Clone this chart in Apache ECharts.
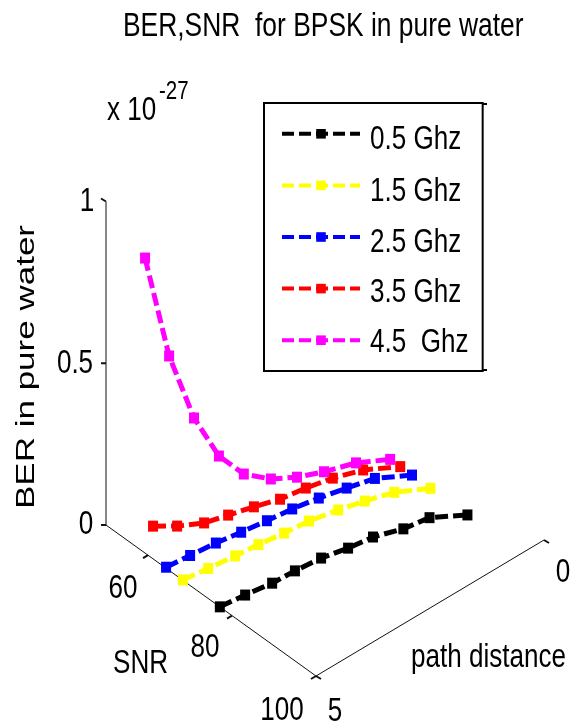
<!DOCTYPE html>
<html>
<head>
<meta charset="utf-8">
<style>html,body{margin:0;padding:0;background:#fff}#c{width:570px;height:724px}</style>
<script src="https://cdn.jsdelivr.net/npm/echarts@6/dist/echarts.min.js"></script>
</head>
<body>
<div id="c"></div>
<script>
// ---- data ----
var distance = [5, 4.5, 4, 3.5, 3, 2.5, 2, 1.5, 1, 0.5];
var names = ['0.5 Ghz', '1.5 Ghz', '2.5 Ghz', '3.5 Ghz', '4.5  Ghz'];
var colors = ['#000000', '#ffff00', '#0000ff', '#ff0000', '#ff00ff'];
var snr05 = [77.1, 77.7, 78.7, 78.7, 79.5, 80.5, 81.0, 82.8, 83.6, 87.2];
var snr15 = [68.3, 68.9, 69.9, 70.0, 70.7, 71.2, 72.7, 73.6, 75.2, 78.4];
var snr25 = [64.3, 64.6, 65.3, 65.9, 66.6, 67.2, 68.1, 69.3, 70.6, 74.0];
var snr35 = [61.2, 61.5, 62.5, 62.8, 63.5, 64.3, 65.0, 66.0, 67.8, 71.2];
var snr45 = [59.3, 59.6, 60.1, 60.6, 61.1, 62.1, 62.9, 63.9, 66.1, 68.8];
var ber05 = [0, 0, 0.004, 0, 0.005, 0.003, 0, 0, 0, 0];
var ber15 = [0.001, 0, 0.006, 0, 0, 0, 0.006, 0, 0, 0];
var ber25 = [0.003, 0, 0.003, 0, 0, 0, 0, 0, 0, 0];
var ber35 = [0.101, 0.062, 0.039, 0.024, 0.014, 0.003, 0.002, 0, 0, 0];
var ber45 = [0.912, 0.570, 0.341, 0.186, 0.093, 0.045, 0.016, 0, 0.006, 0];
var snrSets = [snr05, snr15, snr25, snr35, snr45];
var berSets = [ber05, ber15, ber25, ber35, ber45];
var berTicks = [0, 0.5, 1];
var berTickLabels = ['0', '0.5', '1'];
var snrTicks = [60, 80, 100];
var distTicks = [0, 5];
var snrMin = 50, snrMax = 100, distMax = 5;

// ---- oblique view of the three axes onto a flat plane ----
function project(snr, dist, ber) {
  var u = snr - snrMin, v = distMax - dist;
  return [106 + 4.2 * u + 45.6 * v, 525 + 3.02 * u - 27.2 * v - 323.5 * ber];
}

var FONT = '"Liberation Sans",Arial,sans-serif';
var series = [];
var graphics = [];

// horizontally condensed text
function txt(x, y, text, align, size, sx) {
  graphics.push({ type: 'text', x: x, y: y + 2, scaleX: sx || 0.79, z: 10,
    style: { text: text, font: (size || 33) + 'px ' + FONT, fill: '#000', align: align || 'center', verticalAlign: 'middle' } });
}

// frame
function frame(points) {
  series.push({ type: 'line', silent: true, symbol: 'none', z: 1,
    lineStyle: { color: '#111', width: 1 }, data: points });
}
frame([project(snrMin, 5, 1), project(snrMin, 5, 0), project(snrMax, 5, 0), project(snrMax, 0, 0)]);

function nub(pt, dx, dy) {
  series.push({ type: 'line', silent: true, symbol: 'none', z: 1,
    lineStyle: { color: '#111', width: 2 }, data: [pt, [pt[0] + dx, pt[1] + dy]] });
}
var berOff = [[-20, -2], [-31, -1], [-19, -2]];
berTicks.forEach(function (b, i) {
  var p = project(snrMin, 5, b);
  nub(p, -5, b === 1 ? -3 : 0);
  txt(p[0] + berOff[i][0], p[1] + berOff[i][1], berTickLabels[i]);
});
var snrOff = [[-25, 32], [-27, 30], [-34, 33]];
snrTicks.forEach(function (s, i) {
  var p = project(s, 5, 0);
  nub(p, -5, 3);
  txt(p[0] + snrOff[i][0], p[1] + snrOff[i][1], String(s));
});
var distOff = { 0: [19, 31], 5: [19, 34] };
distTicks.forEach(function (d) {
  var p = project(snrMax, d, 0);
  nub(p, 5, 3);
  txt(p[0] + distOff[d][0], p[1] + distOff[d][1], String(d));
});

// curves
names.forEach(function (n, i) {
  series.push({
    name: n, type: 'line', z: 5, clip: false,
    symbol: 'rect', symbolSize: [10, 11], showSymbol: true,
    itemStyle: { color: colors[i] },
    lineStyle: { color: colors[i], width: 5, type: [13, 5], cap: 'butt' },
    data: distance.map(function (d, k) { return project(snrSets[i][k], d, berSets[i][k]); })
  });
});

// text
txt(123, 25, 'BER,SNR  for BPSK in pure water', 'left', 33, 0.8);
txt(107, 109, 'x 10', 'left');
txt(159, 90, '-27', 'left', 26);
txt(411, 656, 'path distance', 'left');
txt(113, 662, 'SNR', 'left');
var legendY = [138, 190, 241, 291, 341];
names.forEach(function (n, i) { txt(370, legendY[i], n, 'left'); });
graphics.push({ type: 'text', x: 27, y: 367, rotation: Math.PI / 2, scaleY: 0.76,
  style: { text: 'BER in pure water', font: '35px ' + FONT, fill: '#000', align: 'center', verticalAlign: 'middle' } });
graphics.push({ type: 'rect', shape: { x: 483, y: 103, width: 4, height: 2 }, style: { fill: '#000' } });
graphics.push({ type: 'rect', shape: { x: 483, y: 369, width: 4, height: 2 }, style: { fill: '#000' } });

var chart = echarts.init(document.getElementById('c'), null, { renderer: 'canvas' });
chart.setOption({
  animation: false,
  backgroundColor: '#fff',
  grid: { left: 0, right: 0, top: 0, bottom: 0 },
  xAxis: { type: 'value', min: 0, max: 570, show: false },
  yAxis: { type: 'value', min: 0, max: 724, inverse: true, show: false },
  legend: {
    data: names, orient: 'vertical', left: 264, top: 103,
    padding: [26, 116, 26, 16], itemWidth: 78, itemHeight: 12, itemGap: 42,
    lineStyle: { width: 4, type: [12, 5] },
    borderColor: '#000', borderWidth: 2, backgroundColor: '#fff',
    formatter: function () { return ' '; },
    textStyle: { fontFamily: FONT, fontSize: 6, color: '#000' },
    selectedMode: false, z: 2
  },
  graphic: graphics,
  series: series
});
</script>
</body>
</html>
